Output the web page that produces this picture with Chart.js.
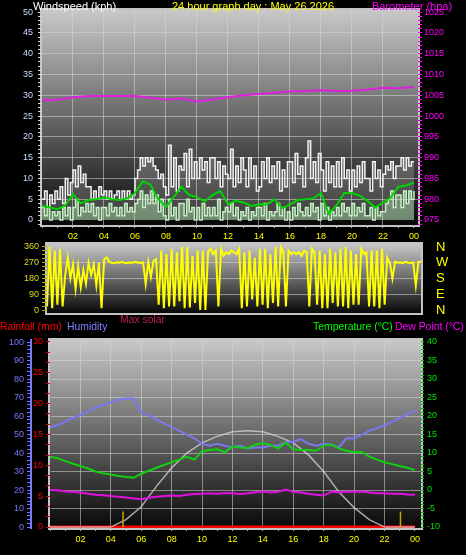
<!DOCTYPE html>
<html>
<head>
<meta charset="utf-8">
<script src="https://cdn.jsdelivr.net/npm/chart.js@4.4.1/dist/chart.umd.min.js"></script>
<style>
body { margin: 0; background: #000; width: 466px; height: 555px; position: relative; overflow: hidden; font-family: "Liberation Sans", Arial, sans-serif; }
canvas { position: absolute; left: 0; }
.t { position: absolute; font-size: 11px; line-height: 13px; white-space: nowrap; }
.b { font-size: 10.4px; }
</style>
</head>
<body>
<canvas id="windChart" width="466" height="245" style="top:0"></canvas>
<canvas id="dirChart" width="466" height="78" style="top:240px"></canvas>
<canvas id="tempChart" width="466" height="240" style="top:315px"></canvas>

<div class="t" style="left:33px;top:0;color:#fff">Windspeed (kph)</div>
<div class="t" style="left:172px;top:0;color:#ffff00">24 hour graph day : May 26 2026</div>
<div class="t" style="left:372px;top:0;color:#ff00ff">Barometer (hpa)</div>
<div class="t b" style="left:120px;top:313px;color:#c0204c">Max solar</div>
<div class="t b" style="left:0;top:320px;color:#ff0000">Rainfall (mm)</div>
<div class="t b" style="left:67px;top:320px;color:#8080ff">Humidity</div>
<div class="t b" style="left:313px;top:320px;color:#00ff00">Temperature (°C)</div>
<div class="t b" style="left:395px;top:320px;color:#ff00ff">Dew Point (°C)</div>

<script>
// tick labels
const hourLabels = ['02', '04', '06', '08', '10', '12', '14', '16', '18', '20', '22', '00'];
const compassLabels = ['N', 'E', 'S', 'W', 'N'];

// wind, every 10 minutes (kph), one row per hour
const gust = [
    5,7,3,6,4,7, 5,8,4,10,6,9, 12,8,13,9,11,8, 8,5,7,5,8,6,
    7,5,7,5,6,7, 5,7,5,7,5,6, 10,12,15,13,15,14, 15,13,12,10,11,8,
    6,18,8,15,7,13, 12,16,8,17,10,14, 10,15,12,14,9,15, 15,10,14,8,13,11,
    10,17,8,13,9,15, 12,8,15,10,13,7, 8,14,10,15,9,13, 10,14,7,12,8,14,
    14,9,16,11,13,8, 15,19,10,14,9,16, 12,7,14,9,13,8, 14,8,15,10,12,7,
    12,8,13,9,14,10, 10,7,14,10,12,8, 11,13,12,14,10,13, 13,15,12,15,13,14,
    14];
const speed = [
    3,1,3,0,2,1, 2,0,3,1,3,0, 3,5,1,3,2,4, 2,4,1,3,0,3,
    3,1,4,2,3,1, 3,1,4,2,3,2, 4,5,7,3,6,4, 7,4,6,2,5,1,
    0,5,1,3,0,4, 4,1,5,2,3,0, 3,0,4,1,3,1, 3,1,5,0,2,3,
    2,4,1,3,0,2, 1,3,0,2,1,3, 3,1,4,0,2,1, 2,4,1,3,0,2,
    0,3,1,4,2,1, 3,1,4,2,3,0, 4,1,3,0,2,1, 3,1,4,2,3,1,
    4,1,3,2,4,1, 1,3,0,3,1,2, 2,4,5,7,3,6, 6,3,7,4,7,5,
    7];
const direction = [
    20,360,10,340,30,350, 20,200,300,180,260,120, 250,130,230,150,270,200, 260,140,270,10,290,300,
    275,270,268,272,270,275, 268,270,272,270,275,270, 270,272,150,275,190,280, 290,30,340,10,320,20,
    350,20,330,50,360,10, 360,15,310,40,340,0, 340,0,330,350,320,340, 20,350,310,330,320,340,
    330,320,350,10,330,20, 340,60,300,20,350,30, 350,10,320,40,360,20, 360,330,20,340,320,330,
    320,330,310,340,330,20, 350,330,30,340,10,320, 10,350,40,330,20,350, 20,360,10,340,30,320,
    30,350,320,330,20,340, 20,340,10,350,30,300, 270,180,275,270,272,268, 275,270,268,272,140,275,
    275];

// every 30 minutes
const avgWind = [3.4,3,2.6,3.5,6.2,4,4.8,5,5.4,5,4.8,5.2,6.5,9.3,8.5,5,3.2,5.5,8,6,5.5,4.5,6,7,
    3.8,4.6,4.2,3.4,3.8,3.7,5,2.8,3.7,4.8,5,5.2,6.5,1.5,3.5,6.5,6.5,5.8,4.6,3,4.2,5.4,8,8.3,9];
const humidity = [54,55,57,59,60.5,62.5,64.5,66,67.5,68.8,69.5,69.5,62,60.5,58,56,54,52,50,48,45,44,45,44,
    43,44,42.5,43,43,44,44,46,46,47.5,45,44,45,44.5,43,48,48,50,52,53.5,55,57,59,61,63];
const temperature = [9,8.6,7.8,7.1,6.5,5.8,5,4.5,4.2,3.8,3.5,3.3,4.4,5.2,6,6.8,7.5,8.2,9,8.2,10.5,10.8,11,10.2,
    11.8,11.5,11.3,12.3,12.6,12.2,11.2,12.8,11,10.8,10.8,10.6,12,12.3,11.2,10.6,10.2,10.3,9,8.2,7.5,7,6.5,6,5.4];
const dewPoint = [0,-0.1,-0.4,-0.5,-0.7,-1,-1.3,-1.4,-1.6,-1.8,-2,-2.3,-2.5,-2.1,-1.8,-1.6,-1.5,-1.6,-1.3,-1.1,
    -1,-0.9,-1,-0.8,-0.9,-1.1,-0.9,-0.6,-0.4,-0.7,-0.5,0.1,-0.5,-0.7,-1,-1.3,-1.5,-0.5,-0.6,-0.5,
    -0.5,-0.4,-0.7,-0.9,-0.9,-1,-1,-1.2,-1.3];

// hourly
const barometer = [1003.8,1003.9,1004.5,1004.8,1004.8,1004.8,1004.8,1004.4,1003.9,1004.2,1003.5,1004,1004.5,
    1005,1005.3,1005.6,1005.9,1006,1006.2,1006,1006.1,1006.3,1006.8,1006.7,1007];
const solarMax = [0,0,0,0,0,40,110,220,320,400,455,490,515,520,515,490,455,390,300,190,105,40,0,0,0];
const rainfall = [0,0,0,0,0,0,0,0,0,0,0,0,0,0,0,0,0,0,0,0,0,0,0,0,0];

// yellow markers on the rain axis
const markerHours = [4.8, 23.05];
const markerTop = 2.5;

const tenMinutes = gust.map((v, i) => i / 6);
const halfHours = avgWind.map((v, i) => i / 2);
const hours = barometer.map((v, i) => i);

function pts(xs, ys) {
    return ys.map((y, i) => ({x: xs[i], y: y}));
}

Chart.defaults.font.family = '"Liberation Sans", Arial, sans-serif';
Chart.defaults.font.size = 9;

// gray-to-black plot background with a light frame
const plotBg = {
    id: 'plotBg',
    beforeDraw(chart) {
        const {ctx, chartArea: a} = chart;
        const g = ctx.createLinearGradient(0, a.top, 0, a.bottom);
        g.addColorStop(0, '#c8c8c8');
        g.addColorStop(1, '#080808');
        ctx.save();
        ctx.fillStyle = g;
        ctx.fillRect(a.left, a.top, a.right - a.left, a.bottom - a.top);
        ctx.strokeStyle = '#c4c4c4';
        ctx.lineWidth = 2;
        ctx.strokeRect(a.left - 1, a.top - 1, a.right - a.left + 2, a.bottom - a.top + 2);
        ctx.restore();
    }
};

const dotted = 'rgba(215,215,215,0.55)';

// fixed axis width, no extra label padding at the ends
function fixWidth(w) {
    return s => { s.width = w; s.paddingTop = 0; s.paddingBottom = 0; };
}

function hourAxis(max, h) {
    return {
        type: 'linear', min: 0, max: max,
        border: {display: false},
        afterFit: s => { s.height = h; s.paddingLeft = 0; s.paddingRight = 0; },
        grid: {
            color: c => (c.tick && c.tick.value % 2 === 0 && c.tick.value > 0 && c.tick.value < 24) ? dotted : 'transparent',
            tickColor: '#b8b8b8', borderDash: [1, 2], tickLength: 3
        },
        ticks: {
            stepSize: 1, autoSkip: false, includeBounds: false, maxRotation: 0, color: '#ffff00', padding: 3,
            callback: v => (v % 2 === 0 && v > 0) ? hourLabels[v / 2 - 1] : ''
        }
    };
}

const baseOpts = {
    responsive: false,
    animation: false,
    events: [],
    elements: {point: {radius: 0}, line: {tension: 0}},
    plugins: {legend: {display: false}, tooltip: {enabled: false}}
};

// top: wind speed + barometer
new Chart(document.getElementById('windChart'), {
    type: 'line',
    data: {
        datasets: [
            {label: 'Gust', data: pts(tenMinutes, gust), borderColor: '#f2f2f2', backgroundColor: 'rgba(235,235,235,0.22)',
                fill: '+1', borderWidth: 1.5, stepped: true, order: 4},
            {label: 'Speed', data: pts(tenMinutes, speed), borderColor: '#c4f0c4', backgroundColor: 'rgba(196,240,196,0.55)',
                fill: 'origin', borderWidth: 1.5, stepped: true, order: 3},
            {label: 'Average', data: pts(halfHours, avgWind), borderColor: '#00d400', borderWidth: 2, order: 2},
            {label: 'Barometer', data: pts(hours, barometer), borderColor: '#e020e0', borderWidth: 2, yAxisID: 'yBaro', order: 1}
        ]
    },
    options: Object.assign({}, baseOpts, {
        layout: {padding: {top: 10, left: 0, right: 0, bottom: 0}},
        scales: {
            x: hourAxis(24.26, 20),
            y: {
                min: -1.2, max: 50.5,
                border: {display: false},
                afterFit: fixWidth(42),
                grid: {
                    color: c => (c.tick && c.tick.value % 5 === 0 && c.tick.value > 0 && c.tick.value < 50) ? dotted : 'transparent',
                    tickColor: '#d8d8d8', borderDash: [1, 2], tickLength: 4
                },
                ticks: {stepSize: 1, autoSkip: false, includeBounds: false, color: '#c8dcff', padding: 5,
                    callback: v => v % 5 === 0 ? String(v) : ''}
            },
            yBaro: {
                position: 'right', min: 973.8, max: 1025.5,
                border: {display: false},
                afterFit: fixWidth(48),
                grid: {drawOnChartArea: false, tickColor: '#ff00ff', tickLength: 4},
                ticks: {stepSize: 1, autoSkip: false, includeBounds: false, color: '#ff00ff', padding: 2,
                    callback: v => v % 5 === 0 ? String(v) : ''}
            }
        }
    }),
    plugins: [plotBg]
});

// middle: wind direction
new Chart(document.getElementById('dirChart'), {
    type: 'line',
    data: {
        datasets: [
            {label: 'Direction', data: pts(tenMinutes, direction), borderColor: '#ffff00', borderWidth: 2}
        ]
    },
    options: Object.assign({}, baseOpts, {
        layout: {padding: {top: 4, left: 0, right: 0, bottom: 5}},
        scales: {
            x: {type: 'linear', min: 0, max: 24, display: false},
            y: {
                min: -17, max: 377,
                border: {display: false},
                afterFit: fixWidth(47),
                grid: {
                    color: c => (c.tick && c.tick.value % 90 === 0 && c.tick.value > 0 && c.tick.value < 360) ? dotted : 'transparent',
                    tickColor: '#b0b000', borderDash: [1, 2], tickLength: 5
                },
                ticks: {stepSize: 22.5, autoSkip: false, includeBounds: false, color: '#dcdc20', padding: 3,
                    callback: v => v % 90 === 0 ? String(v) : ''}
            },
            yDir: {
                position: 'right', min: -17, max: 377,
                border: {display: false},
                afterFit: fixWidth(45),
                grid: {drawOnChartArea: false, drawTicks: false},
                ticks: {stepSize: 90, autoSkip: false, includeBounds: false, color: '#ffff00', padding: 15,
                    font: {size: 13}, callback: v => compassLabels[v / 90]}
            }
        }
    }),
    plugins: [plotBg]
});

// bottom: temperature, humidity, rain, solar
const markerSets = markerHours.map(h => ({
    label: 'Marker', data: [{x: h, y: 0}, {x: h, y: markerTop}], borderColor: '#c8a800', borderWidth: 1.5,
    yAxisID: 'yRain', order: 1
}));

new Chart(document.getElementById('tempChart'), {
    type: 'line',
    data: {
        datasets: [
            {label: 'Rainfall', data: pts(hours, rainfall), borderColor: '#ff0000', borderWidth: 3, yAxisID: 'yRain', order: 7},
            {label: 'Max solar', data: pts(hours, solarMax), borderColor: 'rgba(215,215,215,0.75)', borderWidth: 1.5,
                yAxisID: 'ySolar', order: 6},
            {label: 'Humidity', data: pts(halfHours, humidity), borderColor: '#7878f0', borderWidth: 2, yAxisID: 'yHum', order: 5},
            {label: 'Temperature', data: pts(halfHours, temperature), borderColor: '#10d010', borderWidth: 2, yAxisID: 'yTemp', order: 4},
            {label: 'Dew Point', data: pts(halfHours, dewPoint), borderColor: '#e010e0', borderWidth: 2, yAxisID: 'yTemp', order: 3}
        ].concat(markerSets)
    },
    options: Object.assign({}, baseOpts, {
        layout: {padding: {top: 25, left: 0, right: 0, bottom: 0}},
        scales: {
            x: hourAxis(24.4, 27),
            yHum: {
                position: 'left', weight: 1, min: -0.5, max: 101.1,
                border: {display: true, color: '#7878ff', width: 2},
                afterFit: fixWidth(31),
                grid: {
                    color: c => (c.tick && c.tick.value % 10 === 0 && c.tick.value > 0 && c.tick.value < 100) ? dotted : 'transparent',
                    tickColor: '#7878ff', borderDash: [1, 2], tickLength: 4
                },
                ticks: {stepSize: 2, autoSkip: false, includeBounds: false, color: '#7878ff', padding: 3,
                    callback: v => v % 10 === 0 ? String(v) : ''}
            },
            yRain: {
                position: 'left', weight: 0, min: -0.16, max: 30.32,
                border: {display: false},
                afterFit: fixWidth(19),
                grid: {drawOnChartArea: false, tickColor: '#e00000', tickLength: 4},
                ticks: {stepSize: 5 / 3, autoSkip: false, includeBounds: false, color: '#ff0000', padding: 3,
                    callback: v => Math.abs(v / 5 - Math.round(v / 5)) < 1e-6 ? String(Math.round(v)) : ''}
            },
            yTemp: {
                position: 'right', min: -10.27, max: 40.54,
                border: {display: false},
                afterFit: fixWidth(45),
                grid: {drawOnChartArea: false, tickColor: '#00c000', tickLength: 3},
                ticks: {stepSize: 1, autoSkip: false, includeBounds: false, color: '#00e000', padding: 3,
                    callback: v => v % 5 === 0 ? String(v) : ''}
            },
            ySolar: {display: false, min: -5, max: 1011}
        }
    }),
    plugins: [plotBg]
});
</script>
</body>
</html>
